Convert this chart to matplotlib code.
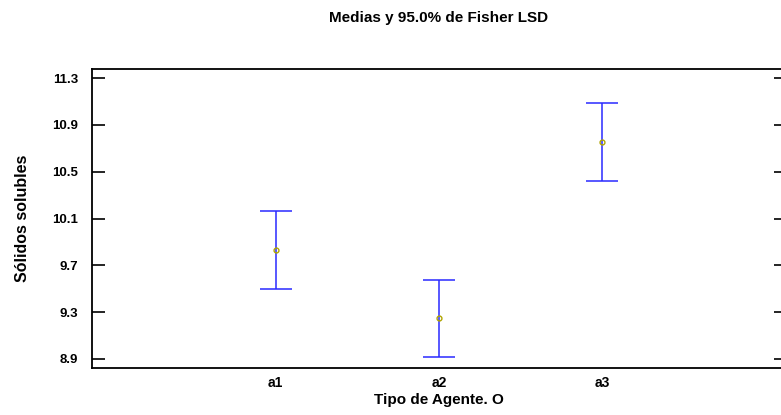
import matplotlib
matplotlib.use("Agg")
import matplotlib.pyplot as plt

# data
groups = ["a1", "a2", "a3"]
means = [9.827, 9.249, 10.75]
lower = [9.50, 8.915, 10.422]
upper = [10.163, 9.576, 11.086]
yticks = [8.9, 9.3, 9.7, 10.1, 10.5, 10.9, 11.3]

plt.rcParams['font.family'] = ['Liberation Sans', 'DejaVu Sans']
plt.rcParams['font.weight'] = 'bold'

fig = plt.figure(figsize=(7.81, 4.15), dpi=100)
# right spine sits just past the image edge, like the original
ax = fig.add_axes([92 / 781, 1 - 368 / 415, (786 - 92) / 781, (368 - 69) / 415])

xs = list(range(1, len(groups) + 1))
yerr = [[m - lo for m, lo in zip(means, lower)], [hi - m for m, hi in zip(means, upper)]]
ax.errorbar(xs, means, yerr=yerr, fmt='none', ecolor='#2a2aff', elinewidth=1.1,
            capsize=11.5, capthick=1.1)
ax.plot(xs, means, 'o', ms=3.5, mfc='none', mec='#b0a400', mew=1)

ax.set_xlim(1 - 1.125, 3 + 1.125)
ax.set_ylim(8.823, 11.377)
ax.set_xticks(xs)
ax.set_xticklabels(groups)
ax.set_yticks(yticks)
ax.set_yticklabels([f"{t:.1f}" for t in yticks])

ax.tick_params(axis='y', direction='in', length=9, width=1.2, left=True, right=True,
               labelsize=9.5, pad=10)
ax.tick_params(axis='x', length=0, labelsize=10, pad=6)
for sp in ax.spines.values():
    sp.set_linewidth(1.3)

ax.set_xlabel("Tipo de Agente. O", fontsize=11, fontweight='bold', labelpad=2)
ax.set_ylabel("Sólidos solubles", fontsize=11.5, fontweight='bold', labelpad=16)
fig.text(439 / 781, 1 - 18 / 415, "Medias y 95.0% de Fisher LSD", ha='center', va='center',
         fontsize=11, fontweight='bold')

fig.savefig("out.png", dpi=100)
